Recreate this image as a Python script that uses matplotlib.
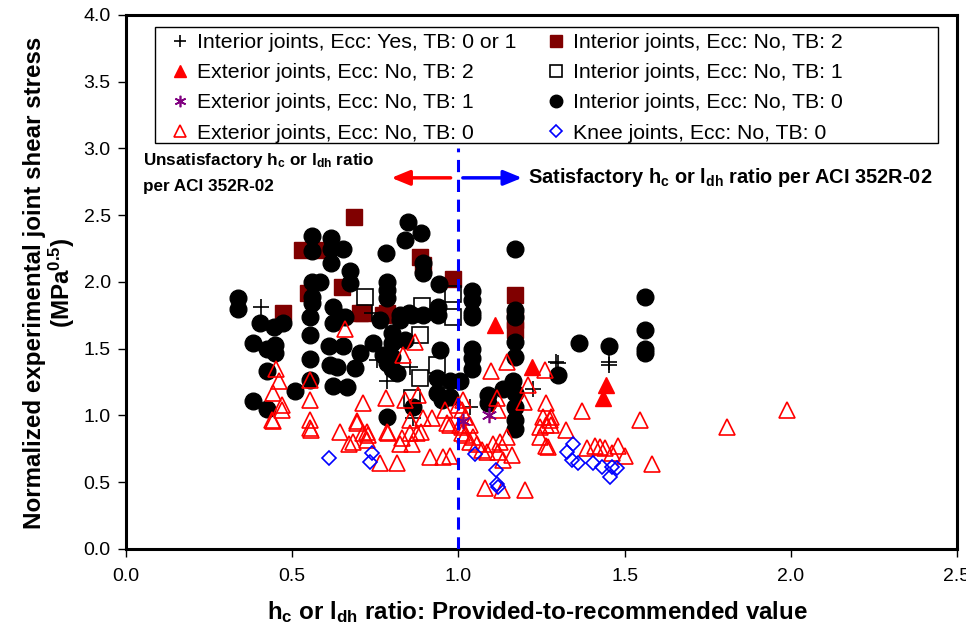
import matplotlib
matplotlib.use('Agg')
import matplotlib.pyplot as plt
from matplotlib.patches import Rectangle
import numpy as np

plt.rcParams['font.family'] = ['Liberation Sans', 'DejaVu Sans']
plt.rcParams['mathtext.fontset'] = 'custom'
plt.rcParams['mathtext.rm'] = 'Liberation Sans:bold'
plt.rcParams['mathtext.bf'] = 'Liberation Sans:bold'
plt.rcParams['mathtext.default'] = 'rm'

# Interior joints, Ecc: Yes, TB: 0 or 1
int_ecc_x = [0.405, 0.754, 0.854, 0.784, 1.295, 1.225, 1.035, 0.864, 1.454, 1.454, 1.30, 0.74]
int_ecc_y = [1.815, 1.415, 1.365, 1.255, 1.40, 1.20, 1.065, 0.98, 1.40, 1.38, 1.39, 1.77]

# Interior joints, Ecc: No, TB: 2
int_tb2_x = [0.531, 0.594, 0.686, 0.548, 0.649, 0.473, 0.886, 0.894, 0.983, 1.17, 0.704, 0.784,
             0.714, 0.774, 1.17, 1.17]
int_tb2_y = [2.24, 2.24, 2.485, 1.92, 1.965, 1.765, 2.185, 2.13, 2.02, 1.90, 1.765, 1.765,
             1.765, 1.75, 1.715, 1.64]

# Exterior joints, Ecc: No, TB: 2
ext_tb2_x = [1.11, 1.22, 1.444, 1.434]
ext_tb2_y = [1.68, 1.365, 1.23, 1.13]

# Exterior joints, Ecc: No, TB: 1
ext_tb1_x = [1.093, 1.015]
ext_tb1_y = [1.005, 0.955]

# Exterior joints, Ecc: No, TB: 0
ext_tb0_x = [0.451, 0.461, 0.443, 0.468, 0.468, 0.438, 0.553, 0.553, 0.553, 0.644, 0.659, 0.553,
             0.869, 0.834, 1.097, 1.145, 1.26, 1.21, 1.198, 1.265, 1.115, 1.12, 0.88, 0.839,
             0.782, 0.714, 0.694, 0.724, 0.784, 0.854, 0.894, 0.92, 0.96, 1.0, 1.01, 1.02,
             0.975, 1.005, 1.035, 1.015, 1.28, 0.441, 0.556, 0.672, 0.694, 0.682, 0.714, 0.729,
             0.724, 0.789, 0.764, 0.814, 0.829, 0.824, 0.859, 0.854, 0.874, 0.889, 0.915, 0.955,
             0.975, 0.965, 1.01, 1.01, 1.02, 1.045, 1.035, 1.055, 1.07, 1.085, 1.105, 1.125,
             1.12, 1.135, 1.16, 1.145, 1.08, 1.13, 1.20, 1.245, 1.265, 1.28, 1.245, 1.27,
             1.255, 1.276, 1.265, 1.324, 1.371, 1.546, 1.807, 1.581, 1.386, 1.41, 1.426, 1.441,
             1.481, 1.501, 1.461, 1.99]
ext_tb0_y = [1.345, 1.255, 1.165, 1.08, 1.04, 0.965, 1.115, 0.965, 0.905, 0.88, 1.65, 1.265,
             1.55, 1.455, 1.33, 1.40, 1.34, 1.23, 1.10, 1.09, 1.13, 1.04, 1.155, 1.115,
             1.13, 1.09, 0.955, 0.88, 0.88, 0.965, 0.98, 0.98, 1.04, 1.08, 1.04, 0.99,
             0.93, 0.93, 0.93, 1.115, 0.99, 0.955, 0.89, 0.79, 0.94, 0.80, 0.867, 0.854,
             0.815, 0.867, 0.646, 0.646, 0.83, 0.79, 0.79, 0.867, 0.867, 0.88, 0.69, 0.69,
             0.70, 0.94, 0.915, 0.867, 0.854, 0.84, 0.80, 0.79, 0.74, 0.73, 0.79, 0.80,
             0.73, 0.67, 0.705, 0.84, 0.455, 0.44, 0.44, 0.915, 0.93, 0.93, 0.84, 0.766,
             0.99, 0.965, 0.77, 0.89, 1.036, 0.966, 0.916, 0.637, 0.754, 0.77, 0.766, 0.754,
             0.77, 0.70, 0.717, 1.04]

# Interior joints, Ecc: No, TB: 1
int_tb1_x = [0.983, 0.983, 0.892, 0.719, 0.884, 0.935, 0.886, 0.86]
int_tb1_y = [1.91, 1.735, 1.82, 1.89, 1.60, 1.38, 1.28, 1.13]

# Interior joints, Ecc: No, TB: 0
int_tb0_x = [0.337, 0.337, 0.403, 0.445, 0.473, 0.381, 0.423, 0.448, 0.448, 0.423, 0.381, 0.423,
             0.508, 0.559, 0.559, 0.559, 0.584, 0.559, 0.559, 0.553, 0.553, 0.553, 0.553,
             0.616, 0.616, 0.652, 0.616, 0.674, 0.674, 0.624, 0.624, 0.644, 0.659, 0.612, 0.652,
             0.634, 0.622, 0.664, 0.704, 0.689, 0.614, 0.744, 0.80, 0.80, 0.839, 0.774, 0.80,
             0.80, 0.814, 0.784, 0.764, 0.784, 0.784, 0.784, 0.782, 0.824, 0.86, 0.85, 0.824,
             0.784, 0.849, 0.889, 0.839, 0.894, 0.894, 0.943, 0.94, 0.94, 0.894, 0.945, 0.935,
             0.935, 0.95, 0.864, 0.975, 1.005, 0.975, 1.04, 1.04, 1.04, 1.04, 1.04, 1.04, 1.04,
             1.17, 1.17, 1.17, 1.17, 1.17, 1.135, 1.165, 1.09, 1.09, 1.17, 1.17, 1.17, 1.17,
             1.30, 1.364, 1.454, 1.561, 1.561, 1.561, 1.561]
int_tb0_y = [1.88, 1.80, 1.69, 1.66, 1.69, 1.54, 1.50, 1.53, 1.465, 1.33, 1.11, 1.05,
             1.18, 2.345, 2.235, 2.0, 2.0, 1.89, 1.84, 1.735, 1.60, 1.42, 1.265,
             2.33, 2.245, 2.25, 2.14, 2.08, 1.99, 1.815, 1.69, 1.74, 1.74, 1.52, 1.52,
             1.365, 1.22, 1.215, 1.465, 1.355, 1.38, 1.54, 1.615, 1.54, 1.565, 1.455, 1.44,
             1.35, 1.315, 1.39, 1.715, 2.0, 1.94, 1.88, 2.22, 1.75, 1.75, 1.765, 1.715,
             0.99, 2.447, 2.365, 2.315, 2.14, 2.065, 1.985, 1.815, 1.75, 1.75, 1.49, 1.28,
             1.165, 1.115, 1.065, 1.255, 1.255, 1.14, 1.935, 1.865, 1.765, 1.74, 1.50, 1.43, 1.35,
             2.245, 1.79, 1.74, 1.55, 1.44, 1.20, 1.255, 1.155, 1.09, 1.165, 1.065, 0.965, 0.90,
             1.30, 1.54, 1.52, 1.89, 1.64, 1.50, 1.465]

# Knee joints, Ecc: No, TB: 0
knee_x = [0.61, 0.739, 0.734, 1.05, 1.113, 1.115, 1.12, 1.326, 1.346, 1.341, 1.361, 1.406,
          1.431, 1.461, 1.476, 1.456]
knee_y = [0.68, 0.717, 0.654, 0.71, 0.59, 0.49, 0.466, 0.73, 0.79, 0.667, 0.642, 0.642,
          0.617, 0.617, 0.605, 0.54]

fig = plt.figure(figsize=(9.66, 6.4), dpi=100)
ax = fig.add_axes([0.1304, 0.1422, 0.8603, 0.8344])

# draw order: squares under circles, open markers on top
h_sq, = ax.plot(int_tb2_x, int_tb2_y, 's', ms=11, color='#800000', mec='#800000', zorder=2)
h_ci, = ax.plot(int_tb0_x, int_tb0_y, 'o', ms=12, color='black', zorder=3)
h_osq, = ax.plot(int_tb1_x, int_tb1_y, 's', ms=11, mfc='none', mec='black', mew=1.2, zorder=4)
h_pl, = ax.plot(int_ecc_x, int_ecc_y, '+', ms=11, color='black', mew=1.2, zorder=5)
h_ft, = ax.plot(ext_tb2_x, ext_tb2_y, '^', ms=11, color='red', zorder=5)
h_ot, = ax.plot(ext_tb0_x, ext_tb0_y, '^', ms=11, mfc='none', mec='red', mew=1.2, zorder=6)
h_as, = ax.plot(ext_tb1_x, ext_tb1_y, marker=(6, 2, 0), ls='none', ms=11, color='#800080',
                mew=1.2, zorder=7)
h_kn, = ax.plot(knee_x, knee_y, 'D', ms=7.5, mfc='none', mec='blue', mew=1.2, zorder=8)

# limit line at ratio = 1.0
ax.plot([1.0, 1.0], [0.0, 3.0], color='blue', ls=(0, (4, 2.5)), lw=2.2, zorder=9)

ax.annotate('', xy=(0.79, 2.78), xytext=(0.985, 2.78),
            arrowprops=dict(arrowstyle='-|>,head_length=1.1,head_width=0.45', color='red', lw=2.5))
ax.annotate('', xy=(1.2, 2.78), xytext=(1.005, 2.78),
            arrowprops=dict(arrowstyle='-|>,head_length=1.1,head_width=0.45', color='blue', lw=2.5))

ax.text(0.05, 2.82, r'Unsatisfactory h$_\mathrm{c}$ or l$_\mathrm{dh}$ ratio' + '\nper ACI 352R-02',
        fontsize=12.3, fontweight='bold', va='center', linespacing=1.75)
ax.text(1.208, 2.78, r'Satisfactory h$_\mathrm{c}$ or l$_\mathrm{dh}$ ratio per ACI 352R-02',
        fontsize=14.4, fontweight='bold', va='center')

ax.set_xlim(0, 2.5)
ax.set_ylim(0, 4.0)
ax.set_xticks(np.arange(0, 2.51, 0.5))
ax.set_yticks(np.arange(0, 4.01, 0.5))
ax.xaxis.set_major_formatter(matplotlib.ticker.FormatStrFormatter('%.1f'))
ax.yaxis.set_major_formatter(matplotlib.ticker.FormatStrFormatter('%.1f'))
ax.tick_params(direction='out', length=6, width=1, labelsize=14)
ax.tick_params(axis='x', pad=8)
ax.tick_params(axis='y', pad=5)
for s in ax.spines.values():
    s.set_linewidth(2.2)

fig.text(0.5564, 0.0437, r'h$_\mathrm{c}$ or l$_\mathrm{dh}$ ratio: Provided-to-recommended value',
         fontsize=17.4, fontweight='bold', ha='center', va='center')
fig.text(0.052, 0.558, 'Normalized experimental joint shear stress\n' + r'(MPa$^\mathrm{0.5}$)',
         fontsize=17.4, fontweight='bold', ha='center', va='center', rotation=90,
         multialignment='center', linespacing=1.05)

leg = ax.legend([h_pl, h_ft, h_as, h_ot, h_sq, h_osq, h_ci, h_kn],
                ['Interior joints, Ecc: Yes, TB: 0 or 1', 'Exterior joints, Ecc: No, TB: 2',
                 'Exterior joints, Ecc: No, TB: 1', 'Exterior joints, Ecc: No, TB: 0',
                 'Interior joints, Ecc: No, TB: 2', 'Interior joints, Ecc: No, TB: 1',
                 'Interior joints, Ecc: No, TB: 0', 'Knee joints, Ecc: No, TB: 0'],
                ncol=2, loc='upper left', bbox_to_anchor=(0.0455, 0.9755), fontsize=15.3,
                handlelength=1.0, handletextpad=0.3, columnspacing=1.4, labelspacing=0.52,
                frameon=False, borderpad=0.25, borderaxespad=0, markerscale=0.75)

# legend frame spans wider than the entries
ax.add_patch(Rectangle((0.0349, 0.7603), 0.9422, 0.2172, transform=ax.transAxes,
                       fill=False, edgecolor='black', lw=1.0, zorder=10))

fig.savefig('out.png', dpi=100)
